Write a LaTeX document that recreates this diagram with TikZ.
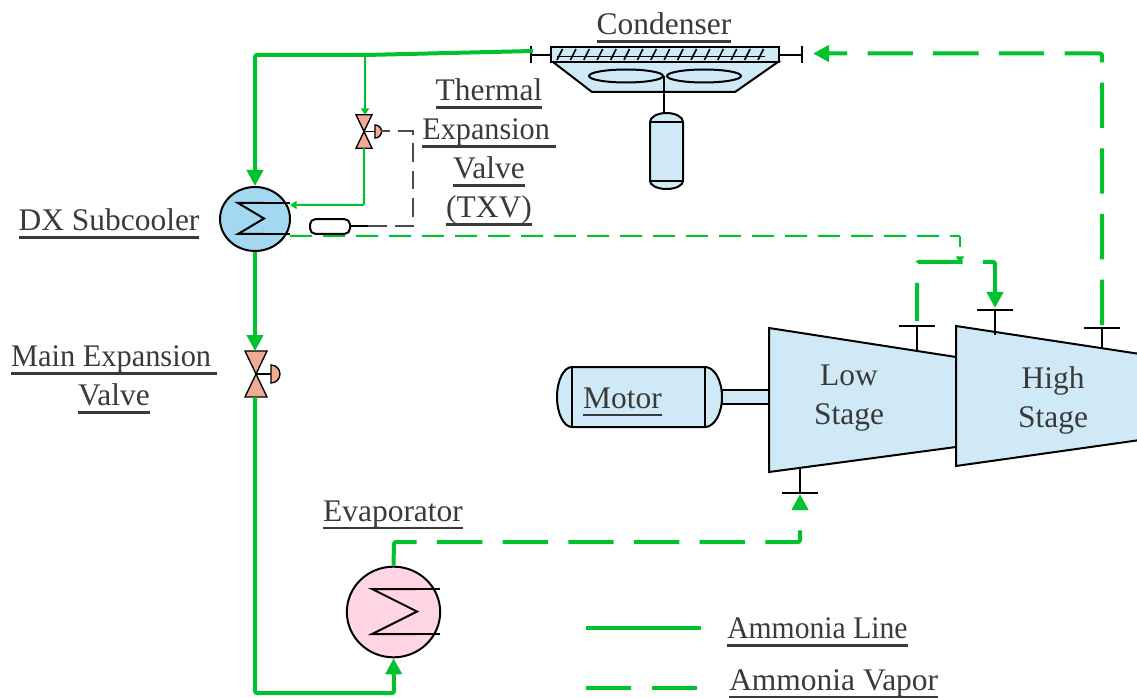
\documentclass[tikz,border=0pt]{standalone}
\usepackage{fontspec}
\setmainfont{Liberation Serif}
\usetikzlibrary{arrows.meta,shapes.geometric}
\definecolor{ammonia}{RGB}{0,194,45}
\definecolor{ice}{RGB}{207,234,246}
\definecolor{sky}{RGB}{163,216,240}
\definecolor{blush}{RGB}{255,213,229}
\definecolor{salmon}{RGB}{240,171,148}
\definecolor{ink}{RGB}{58,58,58}
\newcommand{\ulined}[1]{\setbox0=\hbox{#1}\rlap{\rule[-6.2pt]{\wd0}{2.2pt}}\box0}
\tikzset{
  x=0.75pt,y=-0.75pt,
  part/.style={draw=black,fill=#1,line width=1.5pt},
  part/.default=ice,
  tag/.style={font=\fontsize{23.6}{29.25}\selectfont,text=ink,align=center,inner sep=0pt},
  line/.style={draw=ammonia,line width=3pt,rounded corners=1.5pt},
  thinline/.style={draw=ammonia,line width=1.5pt,rounded corners=1pt},
  vapor/.style={line,dash pattern=on 34pt off 15.25pt},
  thinvapor/.style={thinline,dash pattern=on 16.5pt off 8.25pt},
  bulbline/.style={draw=black!70,line width=1.5pt,dash pattern=on 14pt off 6.5pt},
  bigtip/.style={-{Triangle[length=12pt,width=12pt]}},
  smalltip/.style={-{Triangle[length=5pt,width=6pt]}},
  hx/.style={ellipse,part=#1,inner sep=0pt},
  % pictograms
  pics/valve/.style={code={
    \draw[part=salmon,line width=1pt] (-11,-23) -- (11,-23) -- (-11,23) -- (11,23) -- cycle;
    \draw[line width=1pt] (0,0) -- (15,0);
    \draw[part=salmon,line width=1pt] (15,-9) arc (-90:90:9) -- cycle;
  }},
  pics/tubes/.style={code={
    \draw[line width=1.5pt] (1,-1) -- (0,-1) -- (1,0) -- (0,1) -- (1,1);
  }},
  pics/stub/.style={code={
    \draw[line width=1.5pt] (0,0) -- (0,-#1) (-18,-#1) -- (18,-#1);
  }},
}
\begin{document}
\begin{tikzpicture}
  \useasboundingbox (0,0) rectangle (1137,698);
  % condenser
  \draw[line width=1.5pt] (531,46) -- (531,63) (531,55) -- (802,55) (802,46) -- (802,63);
  \draw[part] (553,62) -- (592,92) -- (735,92) -- (778,62) -- cycle;
  \node[draw=black,fill=ice,line width=1.5pt,minimum width=171pt,minimum height=11pt,inner sep=0pt] (condenser) at (664.5,54.5) {};
  \draw[line width=1pt] (557,56.5) -- (765,56.5);
  \foreach \i in {0,...,15}
    \draw[line width=1.2pt] (557+\i*13.4,60) -- (562.5+\i*13.4,49);
  \draw[part] (626,76) ellipse (37 and 6.5);
  \draw[part] (704,76) ellipse (37 and 6.5);
  \draw[line width=1.5pt] (664,76) -- (664,113);
  \draw[part] (650,122) arc (180:360:16.5 and 9) -- (683,181) arc (0:180:16.5 and 8) -- cycle;
  \draw[line width=1.5pt] (650,122) -- (683,122) (650,181) -- (683,181);
  \node[tag] (condensertag) at (664,28) {\ulined{Condenser}};
  % motor and compressor
  \draw[part] (722,390) rectangle (769,404);
  \draw[part] (572,367) -- (705,367) arc (-90:90:17 and 30) -- (572,427) arc (90:270:15 and 30) -- cycle;
  \draw[line width=1.5pt] (572,367) -- (572,427) (705,367) -- (705,427);
  \node[tag] (motor) at (622.5,402) {\ulined{Motor}};
  \draw[part] (769,328) -- (956,357) -- (956,447) -- (769,472) -- cycle;
  \draw[part] (956,326) -- (1140,354) -- (1140,440) -- (956,466) -- cycle;
  \node[tag] (low) at (849,398) {Low\\Stage};
  \node[tag] (high) at (1053,400) {High\\Stage};
  \pic at (917,351) {stub=25};
  \pic at (995,335) {stub=25};
  \pic at (1102,349) {stub=21};
  \pic[yscale=-1] at (800,467) {stub=26};
  \coordinate (lowout) at (917,321);
  \coordinate (highin) at (995,308);
  \coordinate (highout) at (1102,325);
  \coordinate (lowin) at (800,494);
  \coordinate (condin) at (813,53.5);
  \coordinate (condout) at (533,51);
  \coordinate (junction) at (960,263);
  % exchangers
  \node[hx=sky,minimum width=52.5pt,minimum height=48pt] (subcooler) at (255,219) {};
  \pic[xscale=26,yscale=15.5] at (238,218.5) {tubes};
  \draw[line width=1.5pt] (264,203) -- (290,203) (264,234) -- (290,234);
  \node[tag,anchor=center] (subcoolertag) at (109,224) {\ulined{DX Subcooler}};
  \node[hx=blush,minimum width=70pt,minimum height=68pt] (evaporator) at (393.5,612) {};
  \pic[xscale=45,yscale=22.5] at (372,611.5) {tubes};
  \draw[line width=1.5pt] (417,589) -- (440,589) (417,634) -- (440,634);
  \node[tag] (evaporatortag) at (393,515) {\ulined{Evaporator}};
  % valves
  \coordinate (mainvalve) at (256,374);
  \pic at (mainvalve) {valve};
  \node[tag] (mainvalvetag) at (114,379.5) {\scalebox{.966}[1]{\ulined{Main Expansion\kern4.5pt}}\\\ulined{Valve}};
  \coordinate (txv) at (364,131.5);
  \pic[scale=0.73] at (txv) {valve};
  \node[tag] (txvtag) at (489,152.5) {\ulined{Thermal}\\\scalebox{.96}[1]{\ulined{Expansion\kern4.5pt}}\\\ulined{Valve}\\\ulined{(TXV)}};
  % bulb
  \node[draw=black,fill=white,line width=1.5pt,rounded corners=4pt,minimum width=30pt,minimum height=11pt,inner sep=0pt] (bulb) at (330,226.5) {};
  \draw[line width=1.5pt] (bulb.east) -- ++(18,0);
  \draw[bulbline] (368,226.5) -- (413,226.5) -- (413,131) -- (381,131);
  % ammonia piping
  \draw[line,bigtip] (condout) -- (365,55) -- (255,55) -- (subcooler.north);
  \draw[line,bigtip] (subcooler.south) -- (255,351);
  \draw[line,bigtip] (255,397) -- (255,693) -- (394,693) -- (evaporator.south);
  \draw[thinline,smalltip] (365,55) -- (365,115);
  \draw[thinline,smalltip] (364,148) -- (364,205) -- (290,205);
  \draw[thinvapor] (290,236) -- (960,236) -- (960,247);
  \draw[thinline,smalltip] (960,257) -- (junction);
  \draw[vapor,dash phase=5.5pt,bigtip] (lowout) -- (917,262) -- (995,262) -- (highin);
  \draw[vapor,bigtip] (highout) -- (1102,53.5) -- (condin);
  \draw[vapor,bigtip] (evaporator.north) -- (394,542) -- (800,542) -- (lowin);
  % legend
  \coordinate (legendline) at (586,628);
  \coordinate (legendvapor) at (586,688);
  \draw[line] (legendline) -- ++(115,0);
  \draw[vapor] (legendvapor) -- ++(111,0);
  \node[tag,anchor=west] (linetag) at (727,632) {\scalebox{.942}[1]{\ulined{Ammonia Line}}};
  \node[tag,anchor=west] (vaportag) at (729,684) {\ulined{Ammonia Vapor}};
\end{tikzpicture}
\end{document}
